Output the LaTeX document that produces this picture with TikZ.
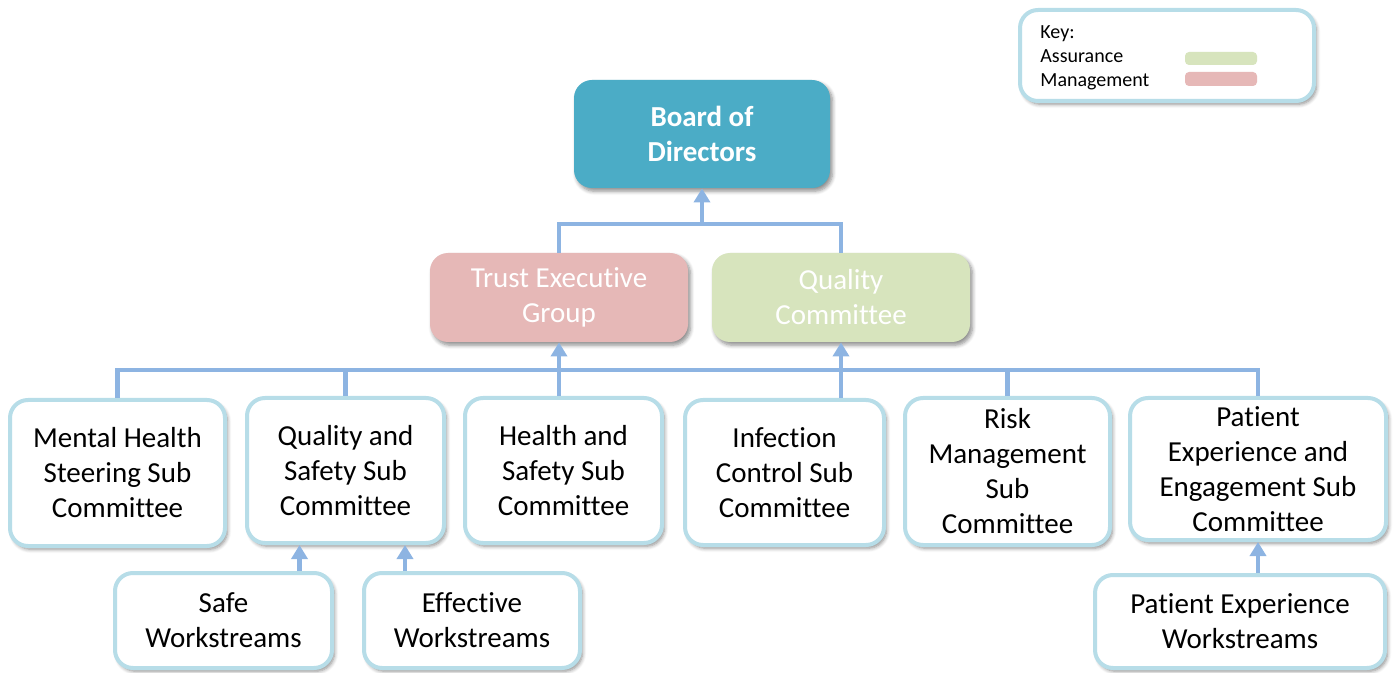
\documentclass[tikz,border=0pt]{standalone}
\usepackage{fontspec}
\setmainfont{Carlito}[Ligatures=NoCommon]
\usepackage{tikz}
\usetikzlibrary{arrows.meta}
\usetikzlibrary{positioning,shadows.blur}
\definecolor{boardfill}{RGB}{75,172,198}
\definecolor{mgmtfill}{RGB}{230,184,183}
\definecolor{assurfill}{RGB}{215,228,189}
\definecolor{edgeblue}{RGB}{183,221,232}
\definecolor{linkblue}{RGB}{141,180,226}

\begin{document}
\begin{tikzpicture}[
x=0.5pt, y=-0.5pt,
MyShadow/.style={blur shadow={shadow xshift=1.2pt, shadow yshift=-1.6pt, shadow blur steps=6, shadow opacity=45}},
SubBox/.style={draw=edgeblue, line width=2pt, fill=white, rounded corners=9pt, MyShadow,
  align=center, inner sep=0pt, font=\fontsize{14.5}{17.5}\selectfont},
TopBox/.style={fill=#1, rounded corners=9pt, MyShadow, text=white,
  align=center, inner sep=0pt, font=\fontsize{14.5}{17.5}\selectfont},
Link/.style={draw=linkblue, line width=2.3pt},
Arrow/.style={Link, -{Triangle[length=7pt, width=8pt]}},
every node/.style={scale=1}
]
\useasboundingbox (0,0) rectangle (1397,673);

% top of the tree
\node[TopBox=boardfill, minimum width=128pt, minimum height=54pt, font=\fontsize{14.5}{17.5}\selectfont\bfseries]
  (board) at (702,134) {Board of\\Directors};
\node[TopBox=mgmtfill, minimum width=129pt, minimum height=44.5pt] (teg) at (559,297.5) {Trust Executive\\Group};
\node[TopBox=assurfill, minimum width=129pt, minimum height=44.5pt] (qc) at (841,297.5) {Quality\\Committee};

% sub committees
\node[SubBox, minimum width=107.5pt, minimum height=73pt] (mhs) at (117.5,473) {Mental Health\\Steering Sub\\Committee};
\node[SubBox, minimum width=98.5pt, minimum height=72.5pt] (qss) at (345.5,470.5) {Quality and\\Safety Sub\\Committee};
\node[SubBox, minimum width=98.5pt, minimum height=72.5pt] (hss) at (563.5,470.5) {Health and\\Safety Sub\\Committee};
\node[SubBox, minimum width=99.5pt, minimum height=72.5pt] (ics) at (784.5,472.5) {Infection\\Control Sub\\Committee};
\node[SubBox, minimum width=102.5pt, minimum height=73.5pt] (rms) at (1007.5,471.5) {Risk\\Management\\Sub\\Committee};
\node[SubBox, minimum width=128pt, minimum height=71pt] (pes) at (1258,469) {Patient\\Experience and\\Engagement Sub\\Committee};

% workstreams
\node[SubBox, minimum width=108.5pt, minimum height=47.5pt] (safe) at (223.5,620.5) {Safe\\Workstreams};
\node[SubBox, minimum width=108pt, minimum height=47.5pt] (eff) at (472,620.5) {Effective\\Workstreams};
\node[SubBox, minimum width=145pt, minimum height=46.5pt] (pew) at (1240,621.5) {Patient Experience\\Workstreams};

% key
\node[SubBox, minimum width=147pt, minimum height=45.5pt] (key) at (1167,55.5) {};
\node[anchor=north west, align=left, inner sep=0pt, font=\fontsize{10}{12}\selectfont] (keytext) at (1040,25) {Key:\\Assurance\\Management};
\node[fill=assurfill, rounded corners=2pt, minimum width=36pt, minimum height=6.5pt, inner sep=0pt] (keyA) at (1221,58.5) {};
\node[fill=mgmtfill, rounded corners=2pt, minimum width=36pt, minimum height=7pt, inner sep=0pt] (keyM) at (1221,79) {};

% connectors
\coordinate (topbus) at (702,224);
\coordinate (bus) at (0,370);
\draw[Link] (teg.north) |- (topbus) -| (qc.north);
\draw[Arrow] (topbus) -- (board.south);

\draw[Link] (mhs.north) -- (mhs.north |- bus) -- (pes.north |- bus) -- (pes.north);
\draw[Link] (qss.north) -- (qss.north |- bus);
\draw[Link] (rms.north) -- (rms.north |- bus);
\draw[Arrow] (hss.north -| teg.south) -- (teg.south);
\draw[Arrow] (ics.north -| qc.south) -- (qc.south);

\draw[Arrow] ([xshift=38pt]safe.north) -- ([xshift=38pt]safe.north |- qss.south);
\draw[Arrow] ([xshift=-33.5pt]eff.north) -- ([xshift=-33.5pt]eff.north |- qss.south);
\draw[Arrow] (pew.north -| pes.south) -- (pes.south);

\end{tikzpicture}
\end{document}
